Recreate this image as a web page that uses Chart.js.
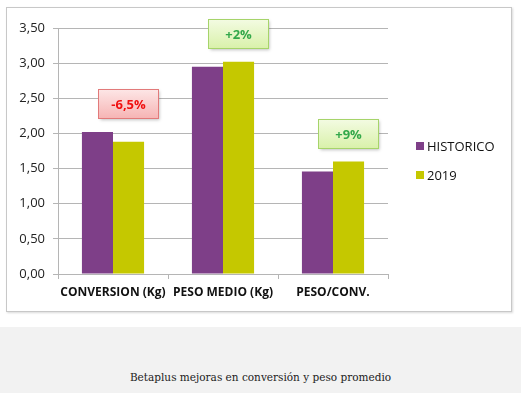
<!DOCTYPE html>
<html>
<head>
<meta charset="utf-8">
<script src="https://cdn.jsdelivr.net/npm/chart.js@4/dist/chart.umd.min.js"></script>
<style>
  html, body { margin:0; padding:0; background:#fff; }
  #wrap { position:absolute; left:0; top:0; width:521px; height:327px; }
  #frame { position:absolute; left:6px; top:7px; width:504px; height:303px; border:1px solid #c8c8c8; box-shadow:1px 1px 2px rgba(0,0,0,0.15); }
  #cap { position:absolute; left:0; top:327px; width:521px; height:66px; background:#f2f2f2; }
  #cap div { position:absolute; left:0; width:521px; top:44px; text-align:center; font-family:"DejaVu Serif", serif; font-size:10.5px; color:#222; }
</style>
</head>
<body>
<div id="frame"></div>
<div id="wrap"><canvas id="c" width="521" height="327"></canvas></div>
<div id="cap"><div>Betaplus mejoras en conversión y peso promedio</div></div>
<script>
const categories = ["CONVERSION (Kg)", "PESO MEDIO (Kg)", "PESO/CONV."];
const historico = [2.02, 2.95, 1.46];
const y2019 = [1.88, 3.02, 1.60];
const changeLabels = ["-6,5%", "+2%", "+9%"];
const yTicks = [0, 0.5, 1, 1.5, 2, 2.5, 3, 3.5];

const PURPLE = "#7E3F88";
const LIME = "#C5C800";

const fmt = v => v.toFixed(2).replace(".", ",");

const boxPlugin = {
  id: "boxes",
  afterDatasetsDraw(chart) {
    const ctx = chart.ctx;
    const xs = chart.scales.x, ys = chart.scales.y;
    changeLabels.forEach((lab, i) => {
      const top = Math.max(historico[i], y2019[i]);
      const cx = xs.getPixelForValue(i) + 15;
      const cy = ys.getPixelForValue(top) - 28.5;
      const w = 60, h = 29;
      const x0 = Math.round(cx - w / 2) + 0.5, y0 = Math.round(cy - h / 2) + 0.5;
      const neg = lab.trim().startsWith("-");
      ctx.save();
      ctx.shadowColor = "rgba(0,0,0,0.25)";
      ctx.shadowBlur = 3; ctx.shadowOffsetX = 1; ctx.shadowOffsetY = 1.5;
      const g = ctx.createLinearGradient(0, y0, 0, y0 + h);
      if (neg) { g.addColorStop(0, "#fde6e6"); g.addColorStop(1, "#f6b4b4"); }
      else { g.addColorStop(0, "#f3fbe2"); g.addColorStop(1, "#d9f1aa"); }
      ctx.fillStyle = g;
      ctx.fillRect(x0, y0, w, h);
      ctx.restore();
      ctx.save();
      ctx.strokeStyle = neg ? "#e27a7a" : "#a6d46a";
      ctx.lineWidth = 1;
      ctx.strokeRect(x0, y0, w, h);
      ctx.fillStyle = neg ? "#f01010" : "#33a84a";
      ctx.font = "bold 13px 'Open Sans', sans-serif";
      ctx.textAlign = "center"; ctx.textBaseline = "middle";
      ctx.fillText(lab, x0 + w / 2, y0 + h / 2 + 1);
      ctx.restore();
    });
    // legend
    const ds = chart.data.datasets;
    ctx.save();
    ds.forEach((d, i) => {
      const ly = 146 + i * 29;
      ctx.fillStyle = d.backgroundColor;
      ctx.fillRect(416, ly - 4, 8, 8);
      ctx.fillStyle = "#111";
      ctx.font = "13px 'Open Sans', sans-serif";
      ctx.textBaseline = "middle";
      ctx.fillText(d.label, 427, ly + 1);
    });
    ctx.restore();
  }
};

new Chart(document.getElementById("c"), {
  type: "bar",
  data: {
    labels: categories,
    datasets: [
      { label: "HISTORICO", data: historico, backgroundColor: PURPLE, barPercentage: 1, categoryPercentage: 0.565 },
      { label: "2019", data: y2019, backgroundColor: LIME, barPercentage: 1, categoryPercentage: 0.565 }
    ]
  },
  options: {
    responsive: false,
    animation: false,
    events: [],
    layout: { padding: { left: 0, right: 133, top: 28, bottom: 0 } },
    plugins: { legend: { display: false }, tooltip: { enabled: false } },
    scales: {
      x: {
        grid: { display: true, drawOnChartArea: false, offset: true, color: "#b5b5b5", tickLength: 5 },
        border: { color: "#b5b5b5" },
        ticks: { color: "#111", font: { family: "'Open Sans', sans-serif", size: 12, weight: "bold" }, padding: 6, maxRotation: 0, autoSkip: false },
        afterFit(s) { s.height = 53; }
      },
      y: {
        min: 0, max: 3.5,
        afterBuildTicks(s) { s.ticks = yTicks.map(v => ({ value: v })); },
        grid: { color: "#b5b5b5", tickLength: 5 },
        border: { color: "#b5b5b5" },
        ticks: { color: "#222", font: { family: "'Open Sans', sans-serif", size: 13 }, padding: 8, callback: v => fmt(v) },
        afterFit(s) { s.width = 58; }
      }
    }
  },
  plugins: [boxPlugin]
});
</script>
</body>
</html>
